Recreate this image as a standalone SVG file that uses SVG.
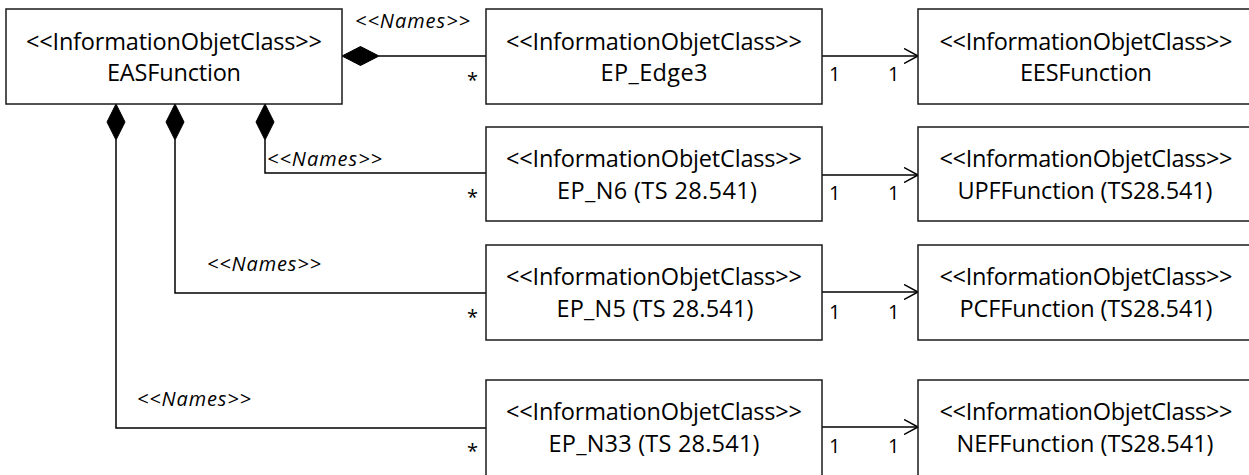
<svg xmlns="http://www.w3.org/2000/svg" width="1249" height="475" viewBox="0 0 1249 475">
<style>
.box{fill:#fff;stroke:#1a1a1a;stroke-width:1.5}
.t{font-family:"Open Sans","Liberation Sans",sans-serif;font-size:23.5px;fill:#000;text-anchor:middle}
.nm{font-family:"Open Sans","Liberation Sans",sans-serif;font-size:20px;font-style:italic;fill:#000}
.m{font-family:"Open Sans","Liberation Sans",sans-serif;font-size:20px;fill:#000}
.ln{fill:none;stroke:#000;stroke-width:1.5}
.dia{fill:#000;stroke:#000;stroke-width:1}
</style>
<defs>
<marker id="open" markerWidth="16" markerHeight="16" refX="14" refY="8" orient="auto" markerUnits="userSpaceOnUse">
<path d="M0,0.5 L14,8 L0,15.5" fill="none" stroke="#000" stroke-width="1.5"/>
</marker>
</defs>
<rect width="1249" height="475" fill="#fff"/>

<g id="connectors">
<polygon class="dia" points="342,56 360.5,46.5 379,56 360.5,65.5"/>
<line class="ln" x1="379" y1="56" x2="486" y2="56"/>
<polygon class="dia" points="265,104 256,122 265,140 274,122"/>
<polyline class="ln" points="265,140 265,173 486,173"/>
<polygon class="dia" points="175,104 166,122 175,140 184,122"/>
<polyline class="ln" points="175,140 175,293 486,293"/>
<polygon class="dia" points="116,104 107,122 116,140 125,122"/>
<polyline class="ln" points="116,140 116,428 486,428"/>
<line class="ln" x1="822" y1="56" x2="918" y2="56" marker-end="url(#open)"/>
<line class="ln" x1="822" y1="175" x2="918" y2="175" marker-end="url(#open)"/>
<line class="ln" x1="822" y1="292" x2="918" y2="292" marker-end="url(#open)"/>
<line class="ln" x1="822" y1="427" x2="918" y2="427" marker-end="url(#open)"/>
<text class="nm" x="355" y="28" textLength="115">&lt;&lt;Names&gt;&gt;</text>
<text class="nm" x="267" y="166" textLength="115">&lt;&lt;Names&gt;&gt;</text>
<text class="nm" x="207" y="271" textLength="114">&lt;&lt;Names&gt;&gt;</text>
<text class="nm" x="137" y="406" textLength="114">&lt;&lt;Names&gt;&gt;</text>
<text class="m" x="467" y="87">*</text>
<text class="m" x="467" y="204">*</text>
<text class="m" x="467" y="324">*</text>
<text class="m" x="467" y="458">*</text>
<text class="m" x="829" y="81">1</text>
<text class="m" x="888" y="81">1</text>
<text class="m" x="829" y="200">1</text>
<text class="m" x="888" y="200">1</text>
<text class="m" x="829" y="319">1</text>
<text class="m" x="888" y="319">1</text>
<text class="m" x="829" y="453">1</text>
<text class="m" x="888" y="453">1</text>
</g>

<g id="EASFunction">
<rect class="box" x="6" y="9" width="336" height="95"/>
<text class="t" x="174" y="50" textLength="296">&lt;&lt;InformationObjetClass&gt;&gt;</text>
<text class="t" x="174" y="81" textLength="134">EASFunction</text>
</g>
<g id="EP_Edge3">
<rect class="box" x="486" y="9" width="336" height="95"/>
<text class="t" x="654" y="50" textLength="296">&lt;&lt;InformationObjetClass&gt;&gt;</text>
<text class="t" x="654" y="81" textLength="107">EP_Edge3</text>
</g>
<g id="EESFunction">
<rect class="box" x="918" y="9" width="336" height="95"/>
<text class="t" x="1086" y="50" textLength="293">&lt;&lt;InformationObjetClass&gt;&gt;</text>
<text class="t" x="1086" y="81" textLength="132">EESFunction</text>
</g>
<g id="EP_N6">
<rect class="box" x="486" y="127" width="336" height="94"/>
<text class="t" x="654" y="167" textLength="296">&lt;&lt;InformationObjetClass&gt;&gt;</text>
<text class="t" x="657" y="199" textLength="200">EP_N6 (TS 28.541)</text>
</g>
<g id="UPFFunction">
<rect class="box" x="918" y="127" width="336" height="94"/>
<text class="t" x="1086" y="167" textLength="293">&lt;&lt;InformationObjetClass&gt;&gt;</text>
<text class="t" x="1085" y="199" textLength="255">UPFFunction (TS28.541)</text>
</g>
<g id="EP_N5">
<rect class="box" x="486" y="245" width="336" height="95"/>
<text class="t" x="654" y="285" textLength="296">&lt;&lt;InformationObjetClass&gt;&gt;</text>
<text class="t" x="655" y="317" textLength="197">EP_N5 (TS 28.541)</text>
</g>
<g id="PCFFunction">
<rect class="box" x="918" y="245" width="336" height="95"/>
<text class="t" x="1086" y="285" textLength="293">&lt;&lt;InformationObjetClass&gt;&gt;</text>
<text class="t" x="1086" y="317" textLength="253">PCFFunction (TS28.541)</text>
</g>
<g id="EP_N33">
<rect class="box" x="486" y="380" width="336" height="100"/>
<text class="t" x="654" y="420" textLength="296">&lt;&lt;InformationObjetClass&gt;&gt;</text>
<text class="t" x="654" y="452" textLength="211">EP_N33 (TS 28.541)</text>
</g>
<g id="NEFFunction">
<rect class="box" x="918" y="380" width="336" height="100"/>
<text class="t" x="1086" y="420" textLength="293">&lt;&lt;InformationObjetClass&gt;&gt;</text>
<text class="t" x="1085" y="452" textLength="257">NEFFunction (TS28.541)</text>
</g>
</svg>
